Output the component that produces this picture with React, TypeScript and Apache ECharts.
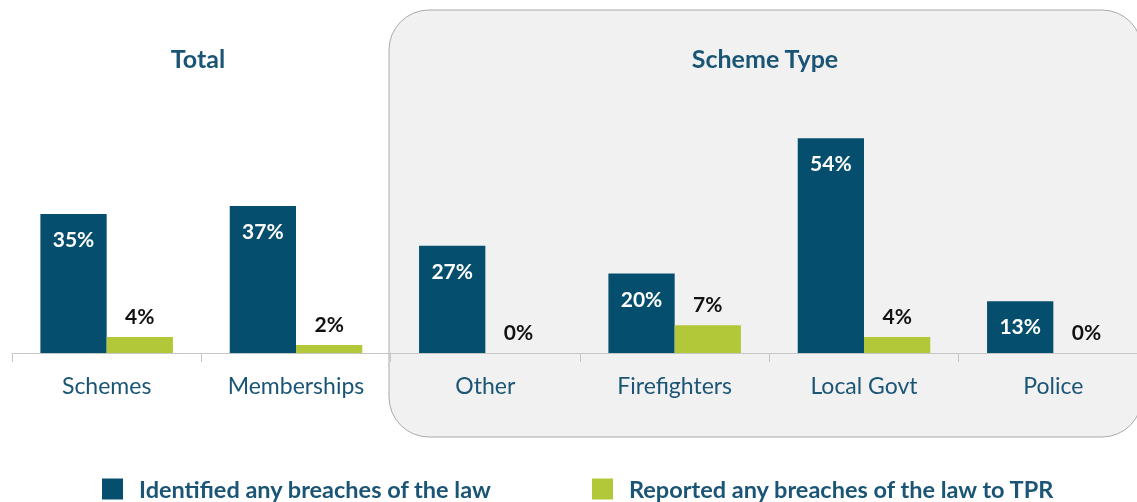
import React, { useEffect, useRef } from "react";
import * as echarts from "echarts";

const categories = ["Schemes", "Memberships", "Other", "Firefighters", "Local Govt", "Police"];
const identified = [35, 37, 27, 20, 54, 13];
const reported = [4, 2, 0, 7, 4, 0];
const seriesNames = ["Identified any breaches of the law", "Reported any breaches of the law to TPR"];
const groupTitles = ["Total", "Scheme Type"];

const DARK = "#054e6e";
const GREEN = "#b3c838";
const TEXT = "#1b5575";
const FONT = "Lato, 'Open Sans', sans-serif";

export default function App() {
  const ref = useRef<HTMLDivElement>(null);
  useEffect(() => {
    if (!ref.current) return;
    const chart = echarts.init(ref.current, undefined, { renderer: "svg" });
    const titleStyle = { color: TEXT, fontSize: 25, fontWeight: "bold", fontFamily: FONT };
    const legendText = { color: TEXT, fontSize: 23.5, lineHeight: 24, fontWeight: "bold", fontFamily: FONT, padding: [0, 0, 0, 11] };
    chart.setOption({
      animation: false,
      textStyle: { fontFamily: FONT },
      title: [
        { text: groupTitles[0], left: 198, top: 45, padding: 0, textAlign: "center", textStyle: titleStyle },
        { text: groupTitles[1], left: 765, top: 45, padding: 0, textAlign: "center", textStyle: titleStyle },
      ],
      graphic: [
        {
          type: "rect",
          z: -10,
          shape: { x: 389, y: 10, width: 753, height: 427, r: 40 },
          style: { fill: "#f1f1f1", stroke: "#a9a9a9", lineWidth: 1 },
        },
      ],
      legend: [
        {
          data: [seriesNames[0]],
          left: 102, top: 477, padding: 0,
          itemWidth: 21, itemHeight: 21, itemGap: 0,
          icon: "rect",
          textStyle: legendText,
        },
        {
          data: [seriesNames[1]],
          left: 592, top: 477, padding: 0,
          itemWidth: 21, itemHeight: 21, itemGap: 0,
          icon: "rect",
          textStyle: legendText,
        },
      ],
      grid: { left: 12, width: 1136, top: 35, height: 318, containLabel: false },
      xAxis: {
        type: "category",
        data: categories,
        axisLine: { lineStyle: { color: "#c6c6c6", width: 1 } },
        axisTick: { show: true, length: 9, lineStyle: { color: "#c6c6c6" } },
        axisLabel: { color: TEXT, fontSize: 23, margin: 20, fontFamily: FONT },
      },
      yAxis: { type: "value", min: 0, max: 80, show: false, splitLine: { show: false } },
      series: [
        {
          name: seriesNames[0],
          type: "bar",
          data: identified,
          barGap: "0%",
          barCategoryGap: "30%",
          itemStyle: { color: DARK },
          label: {
            show: true, position: "insideTop", distance: 14, formatter: "{c}%",
            color: "#ffffff", fontSize: 21, fontWeight: "bold", fontFamily: FONT,
          },
        },
        {
          name: seriesNames[1],
          type: "bar",
          data: reported,
          itemStyle: { color: GREEN },
          label: {
            show: true, position: "top", distance: 11, formatter: "{c}%",
            color: "#111111", fontSize: 21, fontWeight: "bold", fontFamily: FONT,
          },
        },
      ],
    });
    return () => chart.dispose();
  }, []);
  return <div ref={ref} style={{ position: "fixed", left: 0, top: 0, width: 1160, height: 502 }} />;
}
